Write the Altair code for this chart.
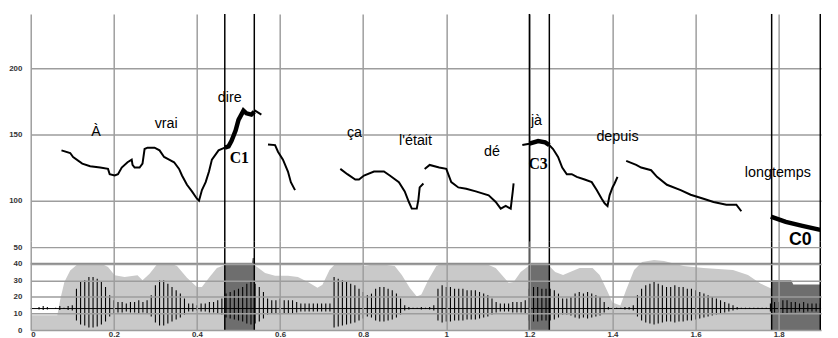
import altair as alt
import pandas as pd

# ---------------- axes ----------------
time_ticks = [0, 0.2, 0.4, 0.6, 0.8, 1.0, 1.2, 1.4, 1.6, 1.8]
hz_ticks = [100, 150, 200]
db_ticks = [0, 10, 20, 30, 40, 50]
T_DOMAIN = [0, 1.902]
HZ_DOMAIN = [69.4, 241]
DB_DOMAIN = [0, 53.6]

# ---------------- pitch contour (Hz) ----------------
seg_a_t = [0.074, 0.095, 0.102, 0.124, 0.143, 0.167, 0.186, 0.190, 0.202, 0.21, 0.219, 0.233,
           0.243, 0.245, 0.25, 0.262, 0.269, 0.274, 0.281, 0.298, 0.31, 0.321, 0.333, 0.345,
           0.357, 0.364, 0.376, 0.388, 0.4, 0.405, 0.412, 0.421, 0.429, 0.436, 0.452, 0.467]
seg_a_hz = [138, 136, 133, 128, 126, 125, 124, 120, 119, 120, 125, 129,
            131, 127, 125, 125, 128, 139, 140, 140, 138, 133, 131, 129,
            124, 119, 112, 107, 101.5, 100, 108, 114, 122, 131, 138, 140]
c1_t = [0.467, 0.476, 0.483, 0.493, 0.5, 0.512, 0.519, 0.531, 0.538]
c1_hz = [140, 141, 145, 153, 161, 168, 166, 165, 167]
seg_a2_t = [0.538, 0.54, 0.555]
seg_a2_hz = [167, 168, 165]
seg_b_t = [0.571, 0.588, 0.595, 0.607, 0.619, 0.626, 0.636]
seg_b_hz = [142.5, 142, 137, 131, 122, 114, 108]
seg_c_t = [0.745, 0.762, 0.781, 0.79, 0.802, 0.826, 0.85, 0.864, 0.886, 0.9, 0.91, 0.917,
           0.929, 0.933, 0.936, 0.945]
seg_c_hz = [124, 120, 116, 116, 119, 122, 122, 119, 114, 107, 99, 94, 94, 101, 110, 113]
seg_d_t = [0.948, 0.96, 0.983, 1.0, 1.012, 1.029, 1.048, 1.071, 1.102, 1.119, 1.131, 1.143,
           1.155, 1.16, 1.162]
seg_d_hz = [124, 127, 125, 124, 114, 110, 109, 107, 104, 99, 94, 96, 94, 107, 113]
seg_e_t = [1.183, 1.2]
seg_e_hz = [142, 143]
c3_t = [1.2, 1.221, 1.238, 1.248]
c3_hz = [143, 145, 144, 142]
seg_e2_t = [1.248, 1.257, 1.269, 1.279, 1.29, 1.302, 1.314, 1.333, 1.35, 1.362, 1.374, 1.381,
            1.388, 1.393, 1.4, 1.405, 1.412]
seg_e2_hz = [142, 139, 133, 125, 120, 120, 118, 116, 114, 108, 101.5, 98, 96, 104, 110, 113, 118]
seg_f_t = [1.433, 1.457, 1.469, 1.493, 1.507, 1.531, 1.564, 1.588, 1.619, 1.643, 1.674, 1.698, 1.71]
seg_f_hz = [130, 127, 125, 123, 118, 112, 108, 104.5, 101.5, 99, 97, 97, 92]
c0_t = [1.781, 1.817, 1.857, 1.9]
c0_hz = [88, 84, 81, 78]

# ---------------- intensity (dB) ----------------
int_time = [0, 0.064, 0.071, 0.081, 0.095, 0.114, 0.131, 0.167, 0.186, 0.202, 0.226, 0.257,
            0.269, 0.286, 0.305, 0.333, 0.352, 0.376, 0.4, 0.412, 0.429, 0.448, 0.467, 0.538,
            0.548, 0.564, 0.588, 0.619, 0.643, 0.667, 0.69, 0.702, 0.719, 0.733, 0.786, 0.802,
            0.833, 0.876, 0.893, 0.912, 0.929, 0.94, 0.957, 0.976, 0.995, 1.095, 1.119, 1.138,
            1.15, 1.162, 1.179, 1.198, 1.248, 1.262, 1.281, 1.298, 1.321, 1.352, 1.369, 1.386,
            1.4, 1.419, 1.433, 1.452, 1.471, 1.5, 1.524, 1.571, 1.619, 1.69, 1.726, 1.757,
            1.783, 1.902]
int_db = [8.9, 8.9, 18.5, 29, 36, 40, 40.5, 40.5, 38, 33, 32, 33,
          30, 34, 40, 40.5, 38.7, 31.5, 26, 26, 31.5, 37.5, 39.3, 39.3,
          37.5, 34.5, 32.7, 32.7, 32, 29, 25.6, 27.4, 36.3, 40, 40, 38.7,
          40, 38.7, 33.3, 25.6, 20.2, 21.4, 30.4, 38.7, 40.5, 40, 37.5, 32,
          28.6, 29, 35, 38.7, 38.7, 35, 33.3, 35, 37.5, 37.5, 33.3, 24.4,
          16.7, 14.9, 24.4, 36.3, 41, 42.3, 41.7, 38.7, 37.5, 36.3, 33.3, 28,
          25, 25]

# intensity inside the three target zones (dark)
core_time = [0.467, 0.532, 0.534, 0.538, 1.2, 1.248, 1.783, 1.83, 1.835, 1.902]
core_db = [40, 40, 43.5, 43.5, 39.5, 39.5, 30, 30, 27.5, 27.5]
core_id = ["C1", "C1", "C1", "C1", "C3", "C3", "C0", "C0", "C0", "C0"]

# ---------------- waveform amplitude (one value every 10 ms) ----------------
wave_step = 0.01
wave_amp = [0, 0, 1, 1.5, 1, 0, 0.5, 1.5, 0.5, 1.5,
            2, 12, 16, 17, 19, 19, 18, 16, 13, 8,
            5, 4, 4, 3, 4, 4, 5, 4, 5, 8,
            14, 17, 17, 15, 13, 11, 9, 6, 3, 3,
            2, 3, 3, 4, 4, 5, 6, 9, 10, 11,
            12, 13, 15, 16, 15, 13, 10, 6, 5, 5,
            6, 5, 5, 5, 4, 3, 3, 3, 3, 3,
            3, 3, 3, 19, 18, 17, 16, 15, 14, 12,
            10, 8, 9, 12, 13, 13, 12, 11, 9, 6,
            2, 1, 0.5, 0.5, 1, 0.5, 1, 2, 12, 14,
            13, 13, 12, 12, 12, 11, 11, 11, 10, 9,
            8, 6, 4, 3, 3, 3, 4, 4, 4, 5,
            12, 13, 13, 12, 12, 12, 11, 9, 6, 6,
            7, 9, 10, 9, 10, 9, 8, 7, 4, 1,
            0.5, 0.5, 0.5, 1, 1, 2, 8, 12, 14, 15,
            16, 15, 14, 13, 13, 14, 13, 13, 12, 12,
            11, 10, 9, 8, 7, 6, 5, 4, 3, 2,
            1, 0.5, 0.5, 0.5, 0.5, 0.5, 0.5, 0.5, 3, 4,
            4, 5, 5, 4, 4, 3, 4, 3, 3, 3,
            3]
WAVE_CENTER = 13

# ---------------- zone boundaries & labels ----------------
bound_time = [0.467, 0.538, 1.2, 1.248, 1.783, 1.9]
word_text = ["À", "vrai", "dire", "ça", "l'était", "dé", "jà", "depuis", "longtemps"]
word_time = [0.157, 0.326, 0.479, 0.779, 0.926, 1.11, 1.217, 1.412, 1.798]
word_hz = [151.5, 157.5, 177.6, 150.7, 144.8, 136.6, 160.4, 147.8, 120.9]
cls_text = ["C1", "C3"]
cls_time = [0.502, 1.221]
cls_hz = [132, 127.6]
c0_label_time = [1.852]
c0_label_hz = [70.5]

# ---------------- build tables ----------------
def rows(name, ts, hs, bold):
    return [{"t": t, "hz": h, "seg": name, "bold": bold} for t, h in zip(ts, hs)]

pitch = pd.DataFrame(
    rows("a", seg_a_t, seg_a_hz, 0) + rows("a2", seg_a2_t, seg_a2_hz, 0)
    + rows("b", seg_b_t, seg_b_hz, 0) + rows("c", seg_c_t, seg_c_hz, 0)
    + rows("d", seg_d_t, seg_d_hz, 0) + rows("e", seg_e_t, seg_e_hz, 0)
    + rows("e2", seg_e2_t, seg_e2_hz, 0) + rows("f", seg_f_t, seg_f_hz, 0)
    + rows("c1", c1_t, c1_hz, 1) + rows("c3", c3_t, c3_hz, 1) + rows("c0", c0_t, c0_hz, 1)
)
inten = pd.DataFrame({"t": int_time, "db": int_db})
core = pd.DataFrame({"t": core_time, "db": core_db, "id": core_id})
wave = pd.DataFrame({
    "t": [round(i * wave_step, 3) for i in range(len(wave_amp))],
    "amp": wave_amp,
})
wave["db"] = WAVE_CENTER - 0.6 * wave["amp"]
wave["hi"] = WAVE_CENTER + wave["amp"]
bounds = pd.DataFrame({"t": bound_time})
words = pd.DataFrame({"t": word_time, "hz": word_hz, "txt": word_text})
cls = pd.DataFrame({"t": cls_time, "hz": cls_hz, "txt": cls_text})
c0lab = pd.DataFrame({"t": c0_label_time, "hz": c0_label_hz, "txt": ["C0"]})
center = pd.DataFrame({"db": [WAVE_CENTER]})
forty = pd.DataFrame({"db": [40]})

GRID = "#9d9d9d"
LIGHT = "#c9c9c9"
DARK = "#6e6e6e"
W = 800
LABEL = dict(labelFont="Liberation Sans", labelFontWeight="bold", labelFontSize=8,
             labelColor="#333333", labelOverlap=False)

xs = alt.Scale(domain=T_DOMAIN, nice=False, zero=False)
hzs = alt.Scale(domain=HZ_DOMAIN, nice=False, zero=False)
dbs = alt.Scale(domain=DB_DOMAIN, nice=False, zero=False)

ax_top_x = alt.Axis(values=time_ticks, grid=True, labels=False, ticks=False, domain=False,
                    title=None, gridColor=GRID, gridWidth=1.5, minExtent=0, maxExtent=0)
ax_top_y = alt.Axis(values=hz_ticks, grid=True, ticks=False, domain=False, title=None,
                    gridColor=GRID, gridWidth=1.5, labelPadding=9, minExtent=22,
                    maxExtent=22, **LABEL)
ax_bot_x = alt.Axis(values=time_ticks, grid=True, ticks=False, domain=False, title=None,
                    gridColor=GRID, gridWidth=1.5, format="~g", labelPadding=0,
                    minExtent=10, maxExtent=10, zindex=1, **LABEL)
ax_bot_y = alt.Axis(values=db_ticks, grid=True, ticks=False, domain=False, title=None,
                    gridColor=GRID, gridWidth=1.5, labelPadding=9, minExtent=22,
                    maxExtent=22, zindex=1, **LABEL)


def XT():
    return alt.X("t:Q", scale=xs, axis=ax_top_x)


def YT():
    return alt.Y("hz:Q", scale=hzs, axis=ax_top_y)


def XB():
    return alt.X("t:Q", scale=xs, axis=ax_bot_x)


def YB():
    return alt.Y("db:Q", scale=dbs, axis=ax_bot_y)


# ---- top panel: F0 ----
top_bounds = alt.Chart(bounds).mark_rule(color="black", strokeWidth=1.5).encode(x=XT())
thin = alt.Chart(pitch).transform_filter("datum.bold == 0").mark_line(
    color="black", strokeWidth=2).encode(x=XT(), y=YT(), detail="seg:N", order="t:Q")
thick = alt.Chart(pitch).transform_filter("datum.bold == 1").mark_line(
    color="black", strokeWidth=4.5).encode(x=XT(), y=YT(), detail="seg:N", order="t:Q")
word_layer = alt.Chart(words).mark_text(font="Liberation Sans", fontSize=14.5,
    color="black", baseline="middle").encode(x=XT(), y=YT(), text="txt:N")
cls_layer = alt.Chart(cls).mark_text(font="Liberation Serif", fontSize=16, fontWeight="bold",
    color="black", baseline="middle").encode(x=XT(), y=YT(), text="txt:N")
c0_layer = alt.Chart(c0lab).mark_text(font="Liberation Sans", fontSize=18, fontWeight="bold",
    color="black", baseline="middle").encode(x=XT(), y=YT(), text="txt:N")

top = alt.layer(thin, thick, top_bounds, word_layer, cls_layer, c0_layer).properties(
    width=W, height=230)

# ---- bottom panel: intensity + waveform ----
area = alt.Chart(inten).mark_area(color=LIGHT, clip=True).encode(
    x=XB(), y=YB(), y2=alt.datum(0))
core_area = alt.Chart(core).mark_area(color=DARK, clip=True).encode(
    x=XB(), y=YB(), y2=alt.datum(0), detail="id:N")
forty_rule = alt.Chart(forty).mark_rule(color="#8a8a8a", strokeWidth=2.2).encode(y=YB())
wave_rules = alt.Chart(wave).mark_rule(color="black", strokeWidth=1.1, clip=True).encode(
    x=XB(), y=YB(), y2="hi:Q")
center_rule = alt.Chart(center).mark_rule(color="black", strokeWidth=1).encode(y=YB())
bot_bounds = alt.Chart(bounds).mark_rule(color="black", strokeWidth=1.5).encode(x=XB())

bottom = alt.layer(area, core_area, forty_rule, center_rule, wave_rules, bot_bounds).properties(
    width=W, height=90)

chart = alt.vconcat(top, bottom, spacing=0, bounds="flush").properties(
    padding={"left": 0, "top": 2, "right": 0, "bottom": 0},
    background="white",
).configure_view(stroke="transparent")

chart.save("out.html", embed_options={"renderer": "svg", "actions": False})
